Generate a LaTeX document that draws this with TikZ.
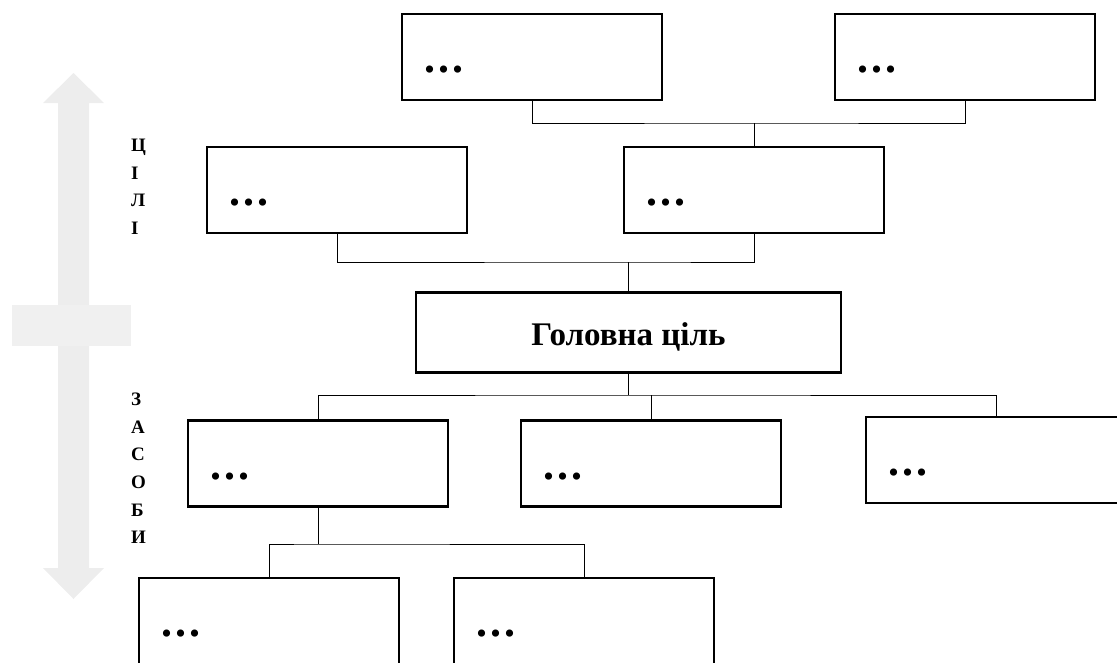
\documentclass[tikz,border=0pt]{standalone}
\usepackage{fontspec}
\setmainfont{Liberation Serif}
\definecolor{arrowgray}{HTML}{EDEDED}
\definecolor{bargray}{HTML}{F0F0F0}
\tikzset{
  box/.style={draw=black, fill=white, line width=2.5pt, rectangle, inner sep=0pt,
              minimum width=260pt, minimum height=86pt},
  mainbox/.style={box, minimum width=425pt, minimum height=80pt},
  link/.style={draw=black, line width=1pt},
  dotstext/.style={anchor=base west, inner sep=0pt, font=\bfseries\fontsize{44}{44}\selectfont},
  sidelabel/.style={anchor=base west, inner sep=0pt, font=\bfseries\fontsize{19}{19}\selectfont},
  maintext/.style={inner sep=0pt, font=\bfseries\fontsize{33}{33}\selectfont}
}
\begin{document}
\begin{tikzpicture}[x=1pt, y=-1pt]
\clip (0,0) rectangle (1117,662);
% side double arrow
\fill[arrowgray] (58,103) -- (43,103) -- (73.5,73) -- (104,103) -- (89,103) -- (89,568)
  -- (104,568) -- (73.5,599) -- (43,568) -- (58,568) -- cycle;
\fill[bargray] (12,305) rectangle (131,346);
% side labels
\foreach \t/\yy [count=\i] in {Ц/151,І/179,Л/206.5,І/234}
  \node[sidelabel] (g\i) at (131,\yy) {\t};
\foreach \t/\yy [count=\i] in {З/405,А/433,С/460.5,О/488,Б/516,И/543.5}
  \node[sidelabel] (z\i) at (131,\yy) {\t};
% boxes
\node[box] (T1) at (532,57) {};
\node[box] (T2) at (965,57) {};
\node[box] (M1) at (337,190) {};
\node[box] (M2) at (754,190) {};
\node[mainbox] (Main) at (628.5,332.5) {};
\node[maintext, anchor=base] (mt) at (628.5,345) {Головна ціль};
\node[box] (B1) at (318,463.5) {};
\node[box] (B2) at (651,463.5) {};
\node[box] (B3) at (996,460) {};
\node[box] (BB1) at (269,621) {};
\node[box] (BB2) at (584,621) {};
% dots
\foreach \b in {T1,T2,M1,M2,B1,B2,B3,BB1,BB2}
  \node[dotstext] (\b d) at ([shift={(24,60)}]\b.north west) {.\kern3pt.\kern3pt.};
% junctions
\coordinate (jT) at (754,123);
\coordinate (jM) at (628.5,262);
\coordinate (jB) at (628.5,395);
\coordinate (jBB) at (318,544);
% connectors
\draw[link] (T1.south) |- (jT) -| (T2.south);
\draw[link] (jT) -- (M2.north);
\draw[link] (M1.south) |- (jM) -| (M2.south);
\draw[link] (jM) -- (Main.north);
\draw[link] (Main.south) -- (jB);
\draw[link] (B1.north) |- (jB) -| (B3.north);
\draw[link] (B2.north) -- (B2.north |- jB);
\draw[link] (B1.south) -- (jBB);
\draw[link] (BB1.north) |- (jBB) -| (BB2.north);
\end{tikzpicture}
\end{document}
